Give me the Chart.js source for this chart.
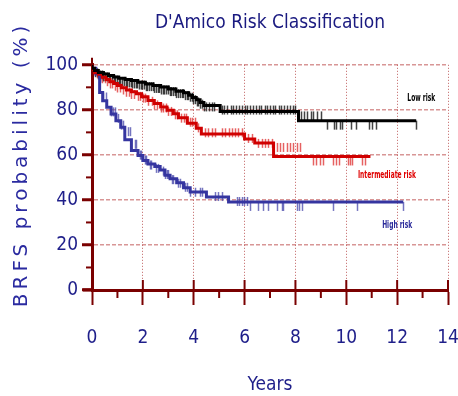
<!DOCTYPE html>
<html><head><meta charset="utf-8">
<script src="https://cdn.jsdelivr.net/npm/chart.js@4.4.1/dist/chart.umd.min.js"></script>
<style>html,body{margin:0;padding:0;background:#fff;}canvas{display:block;}</style>
</head><body>
<canvas id="c" width="458" height="396"></canvas>
<script>
// ---- data ----
const seriesNames = ["Low risk", "Intermediate risk", "High risk"];
const chartTitle = "D'Amico Risk Classification";
const xTitle = "Years";
const yTitle = "BRFS probability (%)";

const lowTimes  = [0, 0.1, 0.25, 0.45, 0.65, 0.85, 1.05, 1.3, 1.55, 1.8, 2.1, 2.4, 2.7, 3.0, 3.3, 3.6, 3.8, 3.95, 4.1, 4.25, 4.4, 5.04, 8.12, 9.15, 12.75];
const lowValues = [100, 98.5, 97.5, 96.6, 95.9, 95.2, 94.6, 94.0, 93.5, 93.0, 92.3, 91.5, 90.8, 90.1, 89.2, 88.3, 87.6, 86.5, 85.5, 84.5, 83.3, 81.9, 79.3, 75.2, 75.2];
const lowCensor = [0.12,0.18,0.25,0.32,0.38,0.45,0.52,0.58,0.65,0.72,0.78,0.85,0.92,0.98,1.05,1.12,1.18,1.25,1.32,1.38,1.45,1.52,1.58,1.65,1.72,1.78,1.85,1.92,1.98,2.05,2.12,2.18,2.25,2.32,2.38,2.45,2.52,2.58,2.65,2.72,2.78,2.85,2.92,2.98,3.05,3.12,3.18,3.25,3.32,3.38,3.45,3.52,3.58,3.65,3.72,3.78,3.85,3.92,3.98,4.05,4.12,4.18,4.25,4.32,4.4,4.5,4.6,4.7,4.8,
  5.1,5.2,5.3,5.45,5.55,5.65,5.8,5.9,6.0,6.1,6.2,6.35,6.45,6.55,6.65,6.8,6.9,7.0,7.1,7.2,7.35,7.45,7.55,7.65,7.8,7.9,8.0,
  8.2,8.35,8.45,8.6,8.7,8.85,9.0,9.25,9.5,9.6,9.75,9.85,10.2,10.4,10.9,11.0,11.15,12.75];

const midTimes  = [0, 0.1, 0.25, 0.4, 0.55, 0.7, 0.85, 1.0, 1.15, 1.35, 1.55, 1.75, 1.95, 2.2, 2.45, 2.7, 2.95, 3.2, 3.4, 3.75, 4.1, 4.3, 6.0, 6.4, 7.14, 8.3, 10.95];
const midValues = [100, 98.0, 96.5, 95.8, 94.5, 93.5, 92.5, 91.7, 90.8, 89.8, 88.8, 88.0, 87.2, 85.8, 84.2, 82.8, 81.3, 79.8, 78.3, 76.5, 74.0, 71.8, 69.3, 67.1, 65.3, 59.3, 59.3];
const midCensor = [0.2,0.3,0.4,0.5,0.6,0.7,0.8,0.9,1.0,1.1,1.2,1.35,1.45,1.55,1.65,1.8,1.9,2.0,2.1,2.2,2.35,2.45,2.55,2.7,2.8,2.9,3.0,3.1,3.25,3.35,3.5,3.6,3.7,3.85,
  3.94,4.06,4.17,4.45,4.57,4.72,4.84,5.12,5.24,5.39,5.51,5.63,5.75,5.91,6.14,6.30,6.54,6.69,6.81,6.93,7.09,7.28,7.40,7.52,7.68,7.80,7.91,8.07,8.19,
  8.70,8.82,8.98,9.09,9.49,9.61,9.72,10.08,10.16,10.24,10.63,10.75];

const highTimes  = [0, 0.15, 0.3, 0.42, 0.58, 0.75, 0.94, 1.13, 1.29, 1.55, 1.81, 2.0, 2.2, 2.47, 2.68, 2.87, 3.07, 3.33, 3.6, 3.86, 4.5, 5.37, 6.22, 12.24];
const highValues = [100, 98.5, 95.9, 87.7, 84.0, 81.1, 78.2, 75.2, 72.3, 66.7, 61.9, 59.7, 57.5, 56.0, 54.8, 53.3, 51.0, 49.4, 47.6, 45.4, 43.5, 41.3, 39.1, 39.1];
const highCensor = [0.30,0.43,0.55,0.75,0.83,0.91,1.02,1.14,1.22,1.42,1.50,1.69,1.73,1.89,1.93,2.09,2.13,2.28,2.32,2.52,2.60,2.80,2.87,2.95,2.99,3.15,3.19,3.39,3.46,3.66,3.74,3.86,4.06,4.25,4.33,4.84,4.96,5.12,5.71,5.79,5.91,5.98,6.10,6.22,6.54,6.73,6.93,7.28,7.48,7.52,8.07,8.15,8.27,9.49,10.43,12.24];

const xTicks = [0, 2, 4, 6, 8, 10, 12, 14];
const xMinorTicks = [1, 3, 5, 7, 9, 11, 13];
const yTicks = [0, 20, 40, 60, 80, 100];
const yMinorTicks = [10, 30, 50, 70, 90];

// ---- helpers ----
function toPoints(ts, vs) { return ts.map((t, i) => ({ x: t, y: vs[i] })); }
function stepAt(ts, vs, t) {
  let v = vs[0];
  for (let i = 0; i < ts.length; i++) { if (ts[i] <= t + 1e-9) v = vs[i]; }
  return v;
}

const NAVY = '#1f1f8a';
const AXIS = '#7a0000';
const NARROW = "'Liberation Sans Narrow','DejaVu Sans Condensed',sans-serif";

const series = [
  { times: lowTimes,  values: lowValues,  censor: lowCensor,  color: '#000000', tick: 'rgba(20,20,20,0.8)',   label: '#000000' },
  { times: midTimes,  values: midValues,  censor: midCensor,  color: '#d00000', tick: 'rgba(220,30,30,0.7)',  label: '#e00000' },
  { times: highTimes, values: highValues, censor: highCensor, color: '#3535a0', tick: 'rgba(70,70,170,0.75)', label: '#2a2a9a' }
];

const extras = {
  id: 'kmExtras',
  beforeDatasetsDraw(chart) {
    const { ctx, scales: { x, y } } = chart;
    ctx.save();
    ctx.lineWidth = 1.5;
    series.forEach(s => {
      ctx.strokeStyle = s.tick;
      s.censor.forEach(t => {
        const px = Math.round(x.getPixelForValue(t)) + 0.5;
        const py = y.getPixelForValue(stepAt(s.times, s.values, t));
        ctx.beginPath(); ctx.moveTo(px, py); ctx.lineTo(px, py + 9); ctx.stroke();
      });
    });
    ctx.restore();
  },
  afterDatasetsDraw(chart, args, opts) {
    const { ctx, scales: { x, y } } = chart;
    ctx.save();
    ctx.font = "bold 11px 'DejaVu Sans Condensed','DejaVu Sans',sans-serif";
    ctx.textAlign = 'center';
    ctx.textBaseline = 'middle';
    opts.labels.forEach((l, i) => {
      ctx.save();
      ctx.fillStyle = series[i].label;
      ctx.translate(x.getPixelForValue(l.x), y.getPixelForValue(l.y));
      ctx.scale(0.6, 1);
      ctx.fillText(seriesNames[i], 0, 0);
      ctx.restore();
    });
    ctx.restore();
  },
  afterDraw(chart, args, opts) {
    const { ctx, scales: { x, y } } = chart;
    const y0 = y.getPixelForValue(0), x0 = x.getPixelForValue(0);
    const yTop = y.getPixelForValue(100);
    ctx.save();
    ctx.strokeStyle = AXIS;
    ctx.lineWidth = 2;
    xMinorTicks.forEach(v => {
      const px = x.getPixelForValue(v);
      ctx.beginPath(); ctx.moveTo(px, y0); ctx.lineTo(px, y0 + 8); ctx.stroke();
    });
    xTicks.forEach(v => {
      const px = x.getPixelForValue(v);
      ctx.beginPath(); ctx.moveTo(px, y0 - 10); ctx.lineTo(px, y0); ctx.stroke();
    });
    yMinorTicks.forEach(v => {
      const py = y.getPixelForValue(v);
      ctx.beginPath(); ctx.moveTo(x0, py); ctx.lineTo(x0 - 6, py); ctx.stroke();
    });
    // small axis-line overhangs
    ctx.lineWidth = 3;
    ctx.beginPath(); ctx.moveTo(x0 - 9, y0); ctx.lineTo(x0, y0); ctx.stroke();
    ctx.lineWidth = 2;
    ctx.beginPath(); ctx.moveTo(x0, yTop - 7); ctx.lineTo(x0, yTop); ctx.stroke();
    // y axis title (letter-spaced, rotated)
    ctx.translate(opts.yTitleX, (y.top + y.bottom) / 2 + opts.yTitleShift);
    ctx.rotate(-Math.PI / 2);
    ctx.font = "20px 'DejaVu Sans',sans-serif";
    try { ctx.letterSpacing = '4px'; } catch (e) {}
    ctx.fillStyle = '#2a2aa0';
    ctx.textAlign = 'center';
    ctx.textBaseline = 'middle';
    ctx.fillText(yTitle, 0, 0);
    ctx.restore();
  }
};

new Chart(document.getElementById('c'), {
  type: 'line',
  data: {
    datasets: series.map((s, i) => ({
      label: seriesNames[i],
      data: toPoints(s.times, s.values),
      borderColor: s.color,
      borderWidth: 3,
      pointRadius: 0,
      stepped: 'after',
      fill: false,
      tension: 0
    }))
  },
  options: {
    responsive: false,
    devicePixelRatio: 1,
    animation: false,
    events: [],
    layout: { padding: { left: 0, right: 10, top: 0, bottom: 0 } },
    plugins: {
      legend: { display: false },
      tooltip: { enabled: false },
      title: {
        display: true,
        fullSize: false,
        text: chartTitle,
        color: '#1a1a80',
        font: { family: NARROW, size: 19, weight: 'normal' },
        padding: { top: 12, bottom: 30 }
      },
      kmExtras: {
        labels: [ { x: 12.95, y: 85.2 }, { x: 11.6, y: 50.9 }, { x: 12.0, y: 29.0 } ],
        yTitleX: 22,
        yTitleShift: -13
      }
    },
    scales: {
      x: {
        type: 'linear', min: 0, max: 14,
        afterBuildTicks: s => { s.ticks = xTicks.map(v => ({ value: v })); },
        afterFit: s => { s.height = 106; s.paddingLeft = 0; s.paddingRight = 0; },
        ticks: { color: NAVY, font: { family: NARROW, size: 19 }, padding: 22, maxRotation: 0 },
        grid: { color: 'rgba(170,40,40,0.75)', lineWidth: 1, tickLength: 15, tickColor: AXIS, tickWidth: 2 },
        border: { display: true, color: AXIS, width: 3, dash: [1, 2] },
        title: { display: true, text: xTitle, color: NAVY, font: { family: NARROW, size: 19 }, padding: { top: 0, bottom: 0 } }
      },
      y: {
        type: 'linear', min: 0, max: 100,
        afterBuildTicks: s => { s.ticks = yTicks.map(v => ({ value: v })); },
        afterFit: s => { s.width = 92; s.paddingTop = 0; s.paddingBottom = 0; },
        ticks: { color: NAVY, font: { family: NARROW, size: 19 }, padding: 4 },
        grid: { color: 'rgba(190,80,80,0.6)', lineWidth: 1.5, tickLength: 10, tickColor: AXIS, tickWidth: 3 },
        border: { display: true, color: AXIS, width: 3, dash: [4, 2] },
        title: { display: false }
      }
    }
  },
  plugins: [extras]
});
</script>
</body></html>
